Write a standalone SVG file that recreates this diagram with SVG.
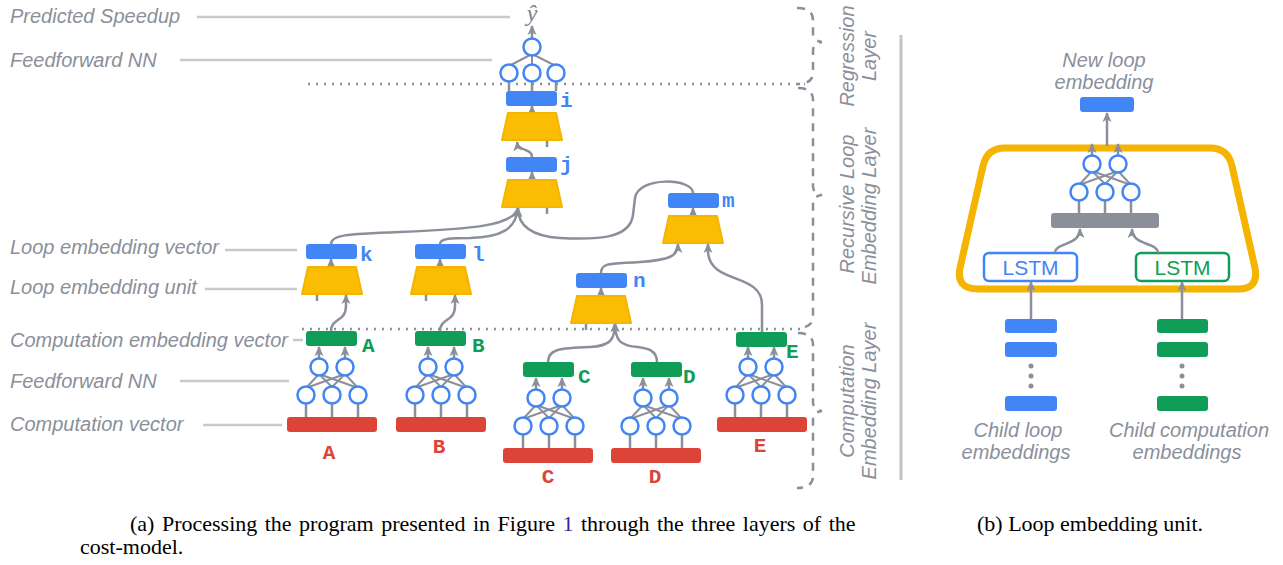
<svg xmlns="http://www.w3.org/2000/svg" xmlns:xlink="http://www.w3.org/1999/xlink" width="1283" height="565" viewBox="0 0 1283 565">
<style>
.lbl{font-family:"Liberation Sans",Arial,sans-serif;font-style:italic;font-size:20px;fill:#8a8f9a}
.guide{stroke:#c9c9c9;stroke-width:2.5;fill:none}
.conn{stroke:#8a8f9a;stroke-width:2.5;fill:none}
.stub{stroke:#8a8f9a;stroke-width:2.5}
.dot{stroke:#8a8f9a;stroke-width:2.5;stroke-dasharray:2 6;fill:none}
.brace{stroke:#8a8f9a;stroke-width:2.5;stroke-dasharray:8 7;fill:none}
.blue{fill:#4285f4}
.green{fill:#0f9d58}
.red{fill:#db4437}
.gray{fill:#8a8f9a}
.trap{fill:#fbbc04;stroke:#f4b400;stroke-width:2;stroke-linejoin:round}
.neuron{fill:#fff;stroke:#4285f4;stroke-width:2.5}
.fl{stroke:#8a8f9a;stroke-width:2}
.mono{font-family:"Liberation Mono","Courier New",monospace;font-weight:bold;font-size:21px}
.cap{font-family:"Liberation Serif","Times New Roman",serif;font-size:22px;fill:#000}
.vt{font-family:"Liberation Sans",Arial,sans-serif;font-style:italic;font-size:20px;fill:#8a8f9a;text-anchor:middle}
</style>
<defs>
<marker id="ah" viewBox="0 0 10 10" refX="9" refY="5" markerWidth="10" markerHeight="10" markerUnits="userSpaceOnUse" orient="auto">
<path d="M0,0.5 L10,5 L0,9.5 L2.5,5 z" fill="#8a8f9a"/>
</marker>
<polygon id="tz" class="trap" points="-24,0 24,0 30,27 -30,27"/>
<g id="ffn2">
<line class="fl" x1="-13" y1="7" x2="-26" y2="21"/>
<line class="fl" x1="-13" y1="7" x2="0" y2="20"/>
<line class="fl" x1="-13" y1="7" x2="26" y2="21"/>
<line class="fl" x1="13" y1="7" x2="-26" y2="21"/>
<line class="fl" x1="13" y1="7" x2="0" y2="20"/>
<line class="fl" x1="13" y1="7" x2="26" y2="21"/>
<line class="stub" x1="-26" y1="36" x2="-26" y2="50"/>
<line class="stub" x1="0" y1="36" x2="0" y2="50"/>
<line class="stub" x1="26" y1="36" x2="26" y2="50"/>
<line class="conn" x1="-13" y1="-8" x2="-13" y2="-20" marker-end="url(#ah)"/>
<line class="conn" x1="13" y1="-8" x2="13" y2="-20" marker-end="url(#ah)"/>
<circle class="neuron" cx="-13" cy="0" r="8.5"/>
<circle class="neuron" cx="13" cy="0" r="8.5"/>
<circle class="neuron" cx="-26" cy="28" r="8.5"/>
<circle class="neuron" cx="0" cy="28" r="8.5"/>
<circle class="neuron" cx="26" cy="28" r="8.5"/>
</g>
</defs>
<rect width="1283" height="565" fill="#fff"/>

<!-- left labels and guide lines -->
<g id="labels">
<text class="lbl" x="10" y="23">Predicted Speedup</text>
<line class="guide" x1="197" y1="17" x2="510" y2="17"/>
<text class="lbl" x="10" y="67">Feedforward NN</text>
<line class="guide" x1="180" y1="60" x2="492" y2="60"/>
<text class="lbl" x="10" y="254">Loop embedding vector</text>
<line class="guide" x1="225" y1="250" x2="297" y2="250"/>
<text class="lbl" x="10" y="294">Loop embedding unit</text>
<line class="guide" x1="205" y1="289" x2="297" y2="289"/>
<text class="lbl" x="10" y="347">Computation embedding vector</text>
<line class="guide" x1="293" y1="340" x2="303" y2="340"/>
<text class="lbl" x="10" y="388">Feedforward NN</text>
<line class="guide" x1="180" y1="381" x2="289" y2="381"/>
<text class="lbl" x="10" y="431">Computation vector</text>
<line class="guide" x1="203" y1="425" x2="282" y2="425"/>
</g>

<!-- dotted separators -->
<g id="separators">
<line class="dot" x1="308" y1="84" x2="805" y2="84"/>
<line class="dot" x1="302" y1="329" x2="805" y2="329"/>
</g>

<!-- braces -->
<g id="braces">
<path class="brace" d="M797,8 Q813,8 813,20 L813,33 Q813,41 822,42 Q813,43 813,51 L813,72 Q813,84 798,84"/>
<path class="brace" d="M798,88 Q813,88 813,100 L813,186 Q813,194 822,195 Q813,196 813,204 L813,316 Q813,328 798,328"/>
<path class="brace" d="M798,333 Q813,333 813,345 L813,402 Q813,410 822,411 Q813,412 813,420 L813,476 Q813,488 797,488"/>
<text class="vt" transform="translate(854,56) rotate(-90)">Regression</text>
<text class="vt" transform="translate(876,56) rotate(-90)">Layer</text>
<text class="vt" transform="translate(854,204) rotate(-90)">Recursive Loop</text>
<text class="vt" transform="translate(876,206) rotate(-90)">Embedding Layer</text>
<text class="vt" transform="translate(854,401) rotate(-90)">Computation</text>
<text class="vt" transform="translate(876,401) rotate(-90)">Embedding Layer</text>
</g>
<line x1="901" y1="35" x2="901" y2="480" stroke="#c4c4c4" stroke-width="3"/>

<!-- connectors -->
<g id="connectors">
<line class="conn" x1="532" y1="113" x2="532" y2="106" marker-end="url(#ah)"/>
<path class="conn" d="M532,157 C532,148 518,152 517,142" marker-end="url(#ah)"/>
<line class="conn" x1="532" y1="180" x2="532" y2="172" marker-end="url(#ah)"/>
<line class="stub" x1="547" y1="140" x2="547" y2="147"/>
<line class="stub" x1="547" y1="207" x2="547" y2="214"/>
<path class="conn" d="M331,244 C331,235 345,234 400,232 C470,229 514,226 518,208" marker-end="url(#ah)"/>
<path class="conn" d="M440,244 C440,238 452,238 470,238 C500,237 516,230 518,208" marker-end="url(#ah)"/>
<path class="conn" d="M693,193 C693,178 638,176 635,198 L633,215 C630,238 600,240 560,238 C530,236 518,225 518,208" marker-end="url(#ah)"/>
<line class="conn" x1="331" y1="267" x2="331" y2="259" marker-end="url(#ah)"/>
<line class="conn" x1="440" y1="267" x2="440" y2="259" marker-end="url(#ah)"/>
<line class="stub" x1="317" y1="294" x2="317" y2="301"/>
<line class="stub" x1="426" y1="294" x2="426" y2="301"/>
<path class="conn" d="M331,331 C331,318 346,322 346,306 L346,295" marker-end="url(#ah)"/>
<path class="conn" d="M440,331 C440,318 455,322 455,306 L455,295" marker-end="url(#ah)"/>
<line class="conn" x1="693" y1="216" x2="693" y2="208" marker-end="url(#ah)"/>
<path class="conn" d="M601,273 C601,262 612,264 640,262 C670,260 678,256 678,244" marker-end="url(#ah)"/>
<path class="conn" d="M762,332 L762,305 C762,272 710,285 708,252 L708,244" marker-end="url(#ah)"/>
<line class="conn" x1="601" y1="296" x2="601" y2="288" marker-end="url(#ah)"/>
<line class="stub" x1="586" y1="323" x2="586" y2="330"/>
<path class="conn" d="M548,362 C548,349 560,348 590,347 C610,346 615,340 615,323" marker-end="url(#ah)"/>
<path class="conn" d="M657,362 C657,349 645,348 638,347 C620,346 615,340 615,323" marker-end="url(#ah)"/>
</g>

<!-- regression FFN -->
<g id="regression-ffn">
<text x="532" y="21" text-anchor="middle" font-family="Liberation Serif,serif" font-style="italic" font-size="24" fill="#7d828c">ŷ</text>
<line class="conn" x1="532" y1="38" x2="532" y2="26" marker-end="url(#ah)"/>
<line class="fl" x1="532" y1="54" x2="509" y2="66"/>
<line class="fl" x1="532" y1="55" x2="532" y2="65"/>
<line class="fl" x1="532" y1="54" x2="556" y2="66"/>
<line class="stub" x1="509" y1="81" x2="509" y2="91"/>
<line class="stub" x1="532" y1="81" x2="532" y2="91"/>
<line class="stub" x1="556" y1="81" x2="556" y2="91"/>
<circle class="neuron" cx="532" cy="47" r="8.5"/>
<circle class="neuron" cx="509" cy="73" r="8.5"/>
<circle class="neuron" cx="532" cy="73" r="8.5"/>
<circle class="neuron" cx="556" cy="73" r="8.5"/>
</g>

<!-- loop nodes -->
<g id="loop-i"><rect class="blue" x="506" y="91" width="51" height="15" rx="3"/><use xlink:href="#tz" href="#tz" x="532" y="113"/><text class="mono blue" x="560" y="107">i</text></g>
<g id="loop-j"><rect class="blue" x="506" y="157" width="51" height="15" rx="3"/><use xlink:href="#tz" href="#tz" x="532" y="180"/><text class="mono blue" x="560" y="171">j</text></g>
<g id="loop-k"><rect class="blue" x="306" y="244" width="51" height="15" rx="3"/><use xlink:href="#tz" href="#tz" x="332" y="267"/><text class="mono blue" x="360" y="261">k</text></g>
<g id="loop-l"><rect class="blue" x="415" y="244" width="51" height="15" rx="3"/><use xlink:href="#tz" href="#tz" x="441" y="267"/><text class="mono blue" x="472" y="261">l</text></g>
<g id="loop-m"><rect class="blue" x="668" y="193" width="51" height="15" rx="3"/><use xlink:href="#tz" href="#tz" x="693" y="216"/><text class="mono blue" x="722" y="207">m</text></g>
<g id="loop-n"><rect class="blue" x="576" y="273" width="51" height="15" rx="3"/><use xlink:href="#tz" href="#tz" x="601" y="296"/><text class="mono blue" x="633" y="287">n</text></g>

<!-- computation nodes -->
<g id="comp-A"><rect class="green" x="306" y="331" width="51" height="15" rx="3"/><use xlink:href="#ffn2" href="#ffn2" x="332" y="367"/><rect class="red" x="287" y="417" width="90" height="15" rx="3"/><text class="mono green" x="362" y="352">A</text><text class="mono red" x="329" y="459" text-anchor="middle">A</text></g>
<g id="comp-B"><rect class="green" x="415" y="331" width="51" height="15" rx="3"/><use xlink:href="#ffn2" href="#ffn2" x="441" y="367"/><rect class="red" x="396" y="417" width="90" height="15" rx="3"/><text class="mono green" x="472" y="352">B</text><text class="mono red" x="439" y="453" text-anchor="middle">B</text></g>
<g id="comp-C"><rect class="green" x="523" y="362" width="51" height="15" rx="3"/><use xlink:href="#ffn2" href="#ffn2" x="549" y="398"/><rect class="red" x="503" y="448" width="90" height="15" rx="3"/><text class="mono green" x="578" y="383">C</text><text class="mono red" x="548" y="483" text-anchor="middle">C</text></g>
<g id="comp-D"><rect class="green" x="631" y="362" width="51" height="15" rx="3"/><use xlink:href="#ffn2" href="#ffn2" x="656" y="398"/><rect class="red" x="611" y="448" width="90" height="15" rx="3"/><text class="mono green" x="683" y="383">D</text><text class="mono red" x="655" y="483" text-anchor="middle">D</text></g>
<g id="comp-E"><rect class="green" x="736" y="332" width="51" height="15" rx="3"/><use xlink:href="#ffn2" href="#ffn2" x="761" y="367"/><rect class="red" x="717" y="417" width="90" height="15" rx="3"/><text class="mono green" x="786" y="358">E</text><text class="mono red" x="760" y="452" text-anchor="middle">E</text></g>

<!-- right panel: loop embedding unit -->
<g id="unit">
<text class="lbl" x="1104" y="67" text-anchor="middle">New loop</text>
<text class="lbl" x="1104" y="89" text-anchor="middle">embedding</text>
<rect class="blue" x="1080" y="97" width="54" height="15" rx="3"/>
<path d="M1005,148 L1210,148 Q1228,148 1232,166 L1255,268 Q1259,289 1238,289 L978,289 Q956,289 960,268 L983,166 Q987,148 1005,148 Z" fill="none" stroke="#f4b400" stroke-width="7"/>
<line class="conn" x1="1107" y1="146" x2="1107" y2="113" marker-end="url(#ah)"/>
<rect class="gray" x="1051" y="213" width="108" height="15" rx="3"/>
<use xlink:href="#ffn2" href="#ffn2" x="1105" y="164"/>
<rect x="984" y="253" width="93" height="28" rx="5" fill="#fff" stroke="#4285f4" stroke-width="2.5"/>
<text x="1030.5" y="275" text-anchor="middle" font-family="Liberation Sans,Arial,sans-serif" font-size="21" fill="#4285f4">LSTM</text>
<rect x="1136" y="253" width="93" height="28" rx="5" fill="#fff" stroke="#0f9d58" stroke-width="2.5"/>
<text x="1182.5" y="275" text-anchor="middle" font-family="Liberation Sans,Arial,sans-serif" font-size="21" fill="#0f9d58">LSTM</text>
<path class="conn" d="M1055,253 C1055,242 1080,246 1080,229" marker-end="url(#ah)"/>
<path class="conn" d="M1158,253 C1158,242 1132,246 1132,229" marker-end="url(#ah)"/>
<line class="conn" x1="1031" y1="319" x2="1031" y2="282" marker-end="url(#ah)"/>
<line class="conn" x1="1182" y1="319" x2="1182" y2="282" marker-end="url(#ah)"/>
<rect class="blue" x="1005" y="319" width="52" height="14" rx="3"/>
<rect class="blue" x="1005" y="342" width="52" height="15" rx="3"/>
<circle class="gray" cx="1031" cy="366" r="2.5"/><circle class="gray" cx="1031" cy="376" r="2.5"/><circle class="gray" cx="1031" cy="386" r="2.5"/>
<rect class="blue" x="1005" y="396" width="52" height="15" rx="3"/>
<rect class="green" x="1157" y="319" width="51" height="14" rx="3"/>
<rect class="green" x="1157" y="342" width="51" height="15" rx="3"/>
<circle class="gray" cx="1182" cy="366" r="2.5"/><circle class="gray" cx="1182" cy="376" r="2.5"/><circle class="gray" cx="1182" cy="386" r="2.5"/>
<rect class="green" x="1157" y="396" width="51" height="15" rx="3"/>
<text class="lbl" x="1018" y="437" text-anchor="middle">Child loop</text>
<text class="lbl" x="1016" y="459" text-anchor="middle">embeddings</text>
<text class="lbl" x="1189" y="437" text-anchor="middle">Child computation</text>
<text class="lbl" x="1187" y="459" text-anchor="middle">embeddings</text>
</g>

<!-- captions -->
<g id="captions">
<text class="cap" x="130" y="531" word-spacing="2">(a) Processing the program presented in Figure <tspan fill="#2a2a9c">1</tspan> through the three layers of the</text>
<text class="cap" x="80" y="554">cost-model.</text>
<text class="cap" x="977" y="531">(b) Loop embedding unit.</text>
</g>
</svg>
